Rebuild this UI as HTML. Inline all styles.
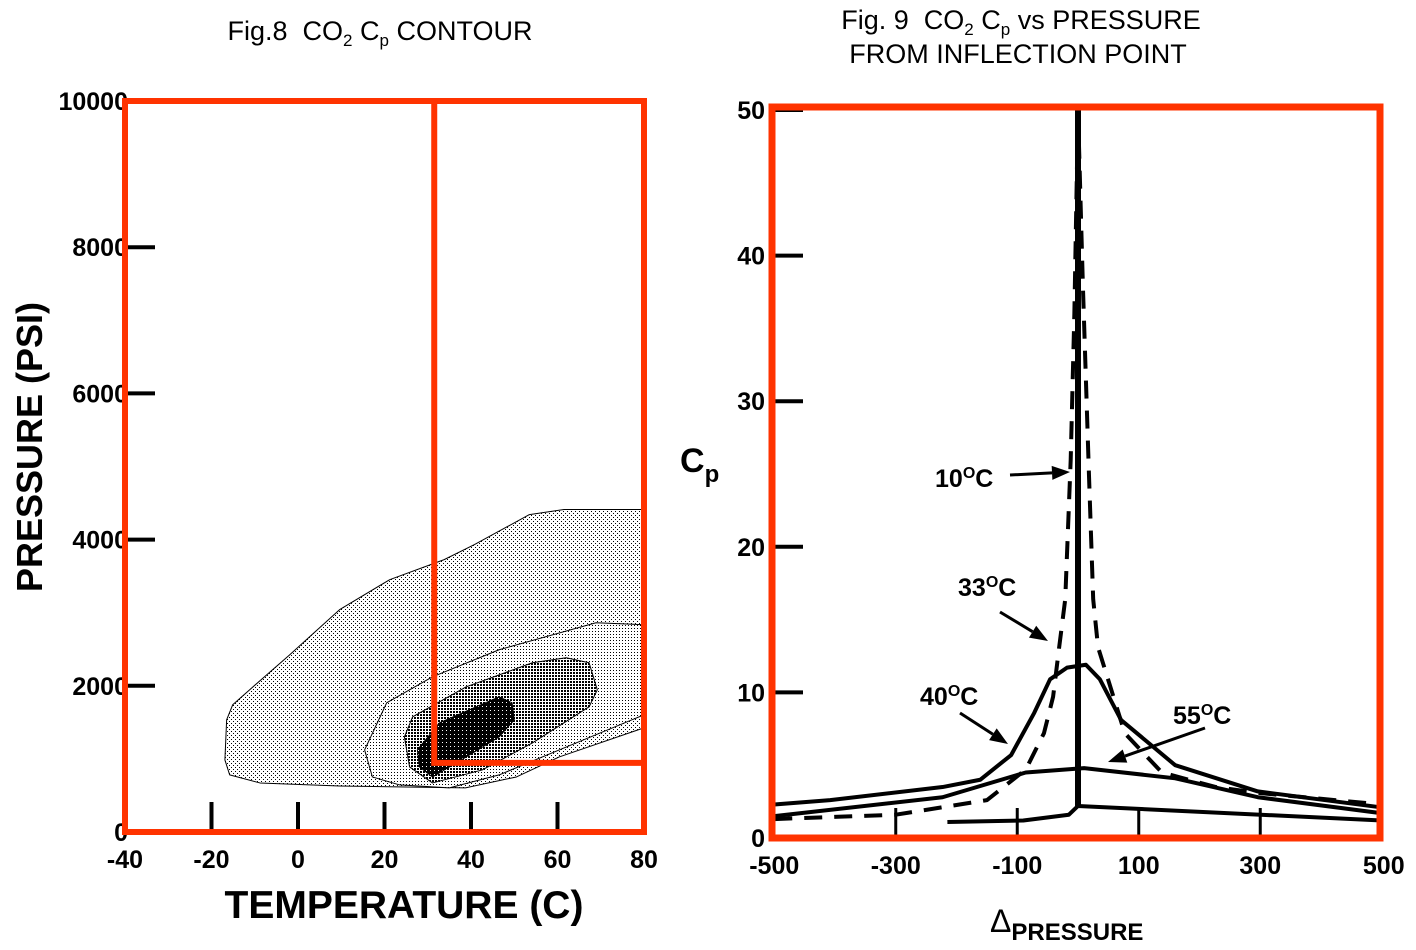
<!DOCTYPE html>
<html><head><meta charset="utf-8"><style>
html,body{margin:0;padding:0;background:#fff;}
svg{display:block;font-family:"Liberation Sans",sans-serif;}
.tk{font-weight:bold;font-size:25px;fill:#000;}
</style></head><body>
<svg id="s" width="1416" height="950" viewBox="0 0 1416 950">
<defs>
<pattern id="p1" width="4" height="4" patternUnits="userSpaceOnUse"><rect width="4" height="4" fill="#fff"/><rect x="1" y="1" width="1" height="1" fill="#000"/><rect x="3" y="3" width="1" height="1" fill="#000"/></pattern>
<pattern id="p2" width="3" height="3" patternUnits="userSpaceOnUse"><rect width="3" height="3" fill="#fff"/><rect x="1" y="1" width="1" height="1" fill="#000"/></pattern>
<pattern id="p3" width="3" height="3" patternUnits="userSpaceOnUse"><rect width="3" height="3" fill="#fff"/><rect x="0" y="0" width="2" height="2" fill="#000"/></pattern>
<pattern id="p4" width="4" height="4" patternUnits="userSpaceOnUse"><rect width="4" height="4" fill="#000"/><rect x="2" y="2" width="1" height="1" fill="#fff"/></pattern>
</defs>
<text x="380" y="40" text-anchor="middle" font-size="27">Fig.8&#160;&#160;CO<tspan font-size="17" dy="6">2</tspan><tspan dy="-6"> C</tspan><tspan font-size="17" dy="6">p</tspan><tspan dy="-6"> CONTOUR</tspan></text>
<text x="1021" y="29" text-anchor="middle" font-size="27">Fig. 9&#160;&#160;CO<tspan font-size="17" dy="6">2</tspan><tspan dy="-6"> C</tspan><tspan font-size="17" dy="6">p</tspan><tspan dy="-6"> vs PRESSURE</tspan></text>
<text x="1018" y="63" text-anchor="middle" font-size="27">FROM INFLECTION POINT</text>
<g id="left"></g>
<g id="right"></g>
<text transform="translate(42,447) rotate(-90)" text-anchor="middle" font-size="36" font-weight="bold">PRESSURE (PSI)</text>
<text x="404" y="918" text-anchor="middle" font-size="39" font-weight="bold">TEMPERATURE (C)</text>
<text x="680" y="472" font-size="34" font-weight="bold">C<tspan font-size="24" dy="10">p</tspan></text>
<text x="990" y="932" font-size="32">Δ<tspan font-size="24" font-weight="bold" dy="8">PRESSURE</tspan></text>
</svg>
<script>
// Left chart data
const tTicks=[-40,-20,0,20,40,60,80];
const pTicks=[0,2000,4000,6000,8000,10000];
const contourOuter=[[-16.5,1534],[-15.1,1740],[-11.2,1945],[-1.9,2425],[9.6,3041],[21.2,3452],[33.8,3726],[40.8,3932],[53.5,4342],[61.5,4411],[80,4411],[80,1425],[60.4,1027],[50.5,753],[38.7,603],[9.6,630],[-8.8,671],[-15.8,781],[-16.9,986]];
const contour2=[[15.4,1123],[20.5,1767],[31.1,2123],[46.5,2493],[68.9,2863],[80,2836],[80,1603],[60.4,1123],[46.5,781],[35,603],[23.5,644],[17.2,753]];
const contour3=[[24.6,1301],[26.5,1575],[38.9,1986],[54.2,2315],[62,2384],[67.3,2315],[69.2,1945],[67.3,1712],[54.2,1219],[42.6,849],[31.1,671],[25.8,890]];
const contour4=[[27.6,1123],[32.7,1493],[46.5,1849],[49.5,1767],[50,1534],[46.5,1301],[38.9,1027],[31.1,753],[28.1,890]];
// Right chart data
const dpTicks=[-500,-300,-100,100,300,500];
const cpTicks=[0,10,20,30,40,50];
const s10base=[[-215,1.1],[-90,1.2],[-15,1.6],[0,2.2],[500,1.2]];
const s10spike=[[0,2.2],[0,50]];
const s40=[[-500,2.3],[-408,2.6],[-223,3.5],[-161,4.0],[-110,5.7],[-72,8.6],[-46,10.9],[-18,11.7],[13,11.9],[36,10.9],[71,8.1],[160,5.0],[296,3.2],[500,2.1]];
const s55=[[-500,1.5],[-223,2.8],[-86,4.5],[10,4.8],[160,4.1],[296,2.8],[500,1.7]];
const s33=[[-500,1.3],[-300,1.6],[-150,2.6],[-86,4.7],[-56,7.2],[-41,9.7],[-31,13.1],[-21,16.4],[-12,26],[-6,36],[0,50],[8,38],[18,25],[25,16.4],[33,13.1],[77,7.2],[138,4.5],[227,3.5],[296,3.1],[500,2.3]];

const NS='http://www.w3.org/2000/svg';
function mk(tag,attrs,parent){const e=document.createElementNS(NS,tag);for(const k in attrs)e.setAttribute(k,attrs[k]);parent.appendChild(e);return e;}
const L=document.getElementById('left'),R=document.getElementById('right');
const xL=t=>125+(t+40)*(519/120), yL=p=>832-p*(731/10000);
const xR=d=>1078+d*0.6075, yR=c=>838-c*14.56;
const RED='#ff3300';

[[contourOuter,'url(#p1)','contour-outer'],[contour2,'url(#p2)','contour-2'],[contour3,'url(#p3)','contour-3'],[contour4,'url(#p4)','contour-core']].forEach(([d,f,n])=>{
  const e=mk('polygon',{points:d.map(p=>xL(p[0])+','+yL(p[1])).join(' '),fill:f,stroke:'#000','stroke-width':1,'stroke-linejoin':'round'},L);
  
  
});
pTicks.forEach(p=>{
  if(p>0&&p<10000){const l=mk('line',{x1:125,x2:155,y1:yL(p),y2:yL(p),stroke:'#000','stroke-width':4},L);
  
  }
  const t=mk('text',{x:128,y:yL(p)+9,'text-anchor':'end',class:'tk'},L);t.textContent=p;
  
  
});
tTicks.forEach(v=>{
  if(v>-40&&v<80){const l=mk('line',{x1:xL(v),x2:xL(v),y1:802,y2:832,stroke:'#000','stroke-width':4},L);
  
  }
  const t=mk('text',{x:xL(v),y:868,'text-anchor':'middle',class:'tk'},L);t.textContent=v;
  
  
});
let fr=mk('rect',{x:125,y:101,width:519,height:731,fill:'none',stroke:RED,'stroke-width':6},L);


fr=mk('polyline',{points:`${xL(31.5)},101 ${xL(31.5)},${yL(945)} 644,${yL(945)}`,fill:'none',stroke:RED,'stroke-width':6},L);



cpTicks.forEach(c=>{
  if(c>0){const l=mk('line',{x1:775,x2:803,y1:yR(c),y2:yR(c),stroke:'#000','stroke-width':4},R);
  
  }
  const t=mk('text',{x:765,y:yR(c)+9,'text-anchor':'end',class:'tk'},R);t.textContent=c;
  
  
});
dpTicks.forEach(d=>{
  if(d>-500&&d<500){const l=mk('line',{x1:xR(d),x2:xR(d),y1:808,y2:838,stroke:'#000','stroke-width':3},R);
  
  }
  const t=mk('text',{x:xR(d)+(d===500?2:0),y:874,'text-anchor':'middle',class:'tk'},R);t.textContent=d;
  
  
});
[[s10base,4,null,'series-10c-base'],[s10spike,6,null,'series-10c-spike'],[s40,4,null,'series-40c'],[s55,4,null,'series-55c'],[s33,4,'18 12','series-33c']].forEach(([d,w,da,n])=>{
  const a={points:d.map(p=>xR(p[0])+','+yR(p[1])).join(' '),fill:'none',stroke:'#000','stroke-width':w,'stroke-linejoin':'round'};
  if(da)a['stroke-dasharray']=da;
  const e=mk('polyline',a,R);
  
  
});
function ann(label,tx,ty,x1,y1,x2,y2,n){
  const t=mk('text',{x:tx,y:ty,'font-size':25,'font-weight':'bold'},R);
  t.innerHTML=label+'<tspan font-size="16" dy="-9">O</tspan><tspan dy="9">C</tspan>';
  
  
  const ang=Math.atan2(y2-y1,x2-x1),h=18,wd=7;
  const bx=x2-h*Math.cos(ang),by=y2-h*Math.sin(ang);
  const l=mk('line',{x1:x1,y1:y1,x2:bx,y2:by,stroke:'#000','stroke-width':3},R);
  
  
  const p=mk('polygon',{points:`${x2},${y2} ${bx+wd*Math.sin(ang)},${by-wd*Math.cos(ang)} ${bx-wd*Math.sin(ang)},${by+wd*Math.cos(ang)}`,fill:'#000'},R);
  
  
}
ann('10',935,487,1010,475,1070,472,'annotation-10c');
ann('33',958,596,1000,612,1048,641,'annotation-33c');
ann('40',920,705,960,713,1008,744,'annotation-40c');
ann('55',1173,724,1205,728,1108,762,'annotation-55c');
fr=mk('rect',{x:772,y:107,width:608,height:731,fill:'none',stroke:RED,'stroke-width':7},R);


</script>
</body></html>
